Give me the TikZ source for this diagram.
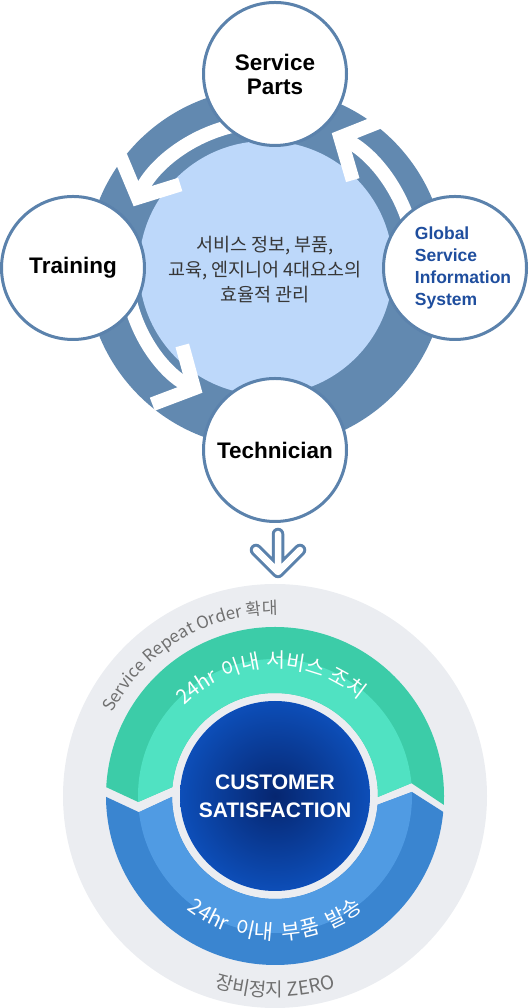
\documentclass[tikz,border=0pt]{standalone}
\usepackage{fontspec}
\setmainfont{Liberation Sans}
\newfontfamily\kofont{Noto Sans CJK KR}
\usepackage{tikz}
\usetikzlibrary{arrows.meta,positioning,calc,decorations.text}

\definecolor{ringblue}{RGB}{98,137,176}
\definecolor{rimblue}{RGB}{91,130,172}
\definecolor{hublight}{RGB}{189,216,250}
\definecolor{gsisblue}{RGB}{31,78,158}
\definecolor{notegray}{RGB}{55,55,55}
\definecolor{outergray}{RGB}{235,237,241}
\definecolor{labelgray}{RGB}{112,112,112}
\definecolor{greendark}{RGB}{60,204,168}
\definecolor{greenlight}{RGB}{80,226,194}
\definecolor{bluedark}{RGB}{58,133,208}
\definecolor{bluelight}{RGB}{80,155,227}
\definecolor{navydeep}{RGB}{6,38,112}
\definecolor{navyedge}{RGB}{13,78,184}

\begin{document}
\begin{tikzpicture}[
            x=1pt, y=1pt,
            hubcircle/.style={circle, draw=rimblue, line width=3pt, fill=white, minimum size=143pt, inner sep=0pt, align=center, font=\fontsize{22.5}{24}\selectfont\bfseries},
            gsislabel/.style={align=left, text=gsisblue, xshift=8pt, font=\fontsize{17.5}{22}\selectfont\bfseries},
            cyclearrow/.style={white, line width=14pt, -{Straight Barb[length=30pt, width=66pt]}},
            curvetext/.style={decorate, decoration={text along path, text align=center, text color=#1}},
            flowarrow/.style={line width=#1, line cap=round, line join=round}
        ]
            \useasboundingbox (0,0) rectangle (532,1008);

            % four elements around the hub
            \coordinate (hub) at (266,740);
            \fill[ringblue] (hub) circle[radius=180];
            \fill[hublight] (hub) circle[radius=127];
            \draw[cyclearrow] ([shift={(100:146)}]hub) arc[start angle=100, end angle=155, radius=146];
            \draw[cyclearrow] ([shift={(190:140)}]hub) arc[start angle=190, end angle=243, radius=140];
            \draw[cyclearrow] ([shift={(12:150)}]hub) arc[start angle=12, end angle=64, radius=150];

            \node[hubcircle] (parts) at (275,934) {Service\\Parts};
            \node[hubcircle] (training) at (73,740) {Training};
            \node[hubcircle, label={[gsislabel]center:Global\\Service\\Information\\System}] (gsis) at (455,740) {};
            \node[hubcircle] (technician) at (275,558) {Technician};
            \node[align=center, text=notegray, font=\kofont\fontsize{18.5}{25}\selectfont] (hubnote) at (265,738)
                {서비스 정보, 부품,\\교육, 엔지니어 4대요소의\\효율적 관리};

            % hollow down arrow
            \coordinate (flowtop) at (278,474);
            \coordinate (flowtip) at (278,436);
            \foreach \w/\c in {12.5pt/rimblue, 6.5pt/white}
                \draw[flowarrow=\w, \c] (flowtop) -- (flowtip) ($(flowtip)+(-22,22)$) -- (flowtip) -- ($(flowtip)+(22,22)$);

            % customer satisfaction wheel
            \coordinate (core) at (275,212);
            \fill[outergray] (core) circle[radius=212];
            \begin{scope}[shift={(core)}]
                \fill[greendark] (-3:169) arc[start angle=-3, end angle=177, radius=169] -- (182.5:137) -- (175:103)
                    arc[start angle=175, end angle=-0.5, radius=103] -- (5.4:137) -- cycle;
                \fill[bluedark] (-5.4:169) arc[start angle=-5.4, end angle=-179.7, radius=169] -- (186.8:137) -- (180.5:103)
                    arc[start angle=180.5, end angle=355.1, radius=103] -- (1.7:137) -- cycle;
                \begin{scope}
                    \clip (0,0) circle[radius=137];
                    \fill[greenlight] (-3:169) arc[start angle=-3, end angle=177, radius=169] -- (182.5:137) -- (175:103)
                        arc[start angle=175, end angle=-0.5, radius=103] -- (5.4:137) -- cycle;
                    \fill[bluelight] (-5.4:169) arc[start angle=-5.4, end angle=-179.7, radius=169] -- (186.8:137) -- (180.5:103)
                        arc[start angle=180.5, end angle=355.1, radius=103] -- (1.7:137) -- cycle;
                \end{scope}
            \end{scope}
            \node[circle, minimum size=190pt, inner sep=0pt, inner color=navydeep, outer color=navyedge, text=white, align=center,
                font=\fontsize{21}{28}\selectfont\bfseries] (satisfaction) at (core) {CUSTOMER\\SATISFACTION};

            \path[curvetext=labelgray, decoration={text={|\kofont\fontsize{17}{17}\selectfont|Service Repeat Order 확대}}]
                ([shift={(175:182)}]core) arc[start angle=175, end angle=67, radius=182];
            \path[curvetext=white, decoration={text={|\kofont\fontsize{20.5}{20.5}\selectfont|24hr{\kern6pt}이내{\kern6pt}서비스{\kern6pt}조치}}]
                ([shift={(172:128)}]core) arc[start angle=172, end angle=12, radius=128];
            \path[curvetext=white, decoration={text={|\kofont\fontsize{21}{21}\selectfont|24hr{\kern10pt}이내{\kern10pt}부품{\kern10pt}발송}}]
                ([shift={(190:144)}]core) arc[start angle=190, end angle=350, radius=144];
            \path[curvetext=labelgray, decoration={text={|\kofont\fontsize{19}{19}\selectfont|장비정지 ZERO}}]
                ([shift={(230:201)}]core) arc[start angle=230, end angle=310, radius=201];
        \end{tikzpicture}
\end{document}
